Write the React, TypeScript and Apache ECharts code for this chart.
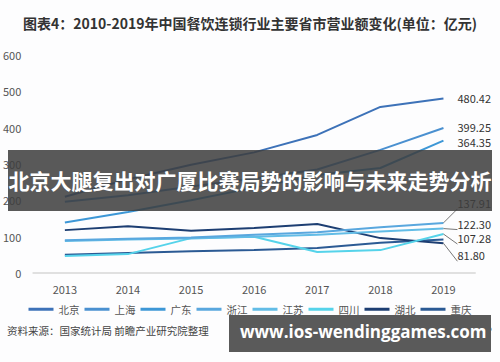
import React, { useEffect, useRef } from "react";
import * as echarts from "echarts";

const years = ["2013", "2014", "2015", "2016", "2017", "2018", "2019"];
const seriesNames = ["北京", "上海", "广东", "浙江", "江苏", "四川", "湖北", "重庆"];
const beijing = [210, 258, 298, 332, 380, 457, 480.42];
const shanghai = [196, 214, 238, 260, 285, 339, 399.25];
const guangdong = [139, 168, 200, 235, 270, 289, 364.35];
const zhejiang = [90, 94, 98, 105, 112, 126, 137.91];
const jiangsu = [88, 92, 95, 100, 105, 114, 122.3];
const sichuan = [47, 52, 96, 100, 58, 63, 107.28];
const hubei = [118, 129, 116, 124, 135, 96, 81.8];
const chongqing = [50, 55, 60, 63, 69, 83, 92];
const allValues = [beijing, shanghai, guangdong, zhejiang, jiangsu, sichuan, hubei, chongqing];
const yTicks = [0, 100, 200, 300, 400, 500, 600];

const colors = ["#3d72b8", "#4a90d0", "#3d97d6", "#59a7de", "#62bce6", "#55d3ea", "#1d3e72", "#2b5a94"];
const showEndLabel = [true, true, true, true, true, true, true, false];
// vertical nudges (px) for the crowded end labels, like the reference's leader-line layout
const labelNudge = [0, -1, 1, -20, -5, 4, 12, 0];

const TITLE = "图表4：2010-2019年中国餐饮连锁行业主要省市营业额变化(单位：亿元)";
const BANNER = "北京大腿复出对广厦比赛局势的影响与未来走势分析";
const SOURCE = "资料来源：国家统计局 前瞻产业研究院整理";
const SOURCE_RIGHT = "⊙ 前瞻经济学人APP";
const SITE = "www.ios-wendinggames.com";

const FONT = "'Noto Sans CJK SC', 'Noto Sans', sans-serif";

export default function App() {
  const ref = useRef<HTMLDivElement>(null);
  useEffect(() => {
    if (!ref.current) return;
    const chart = echarts.init(ref.current, undefined, { renderer: "svg" });
    const last = years.length - 1;
    const series = seriesNames.map((name, si) => ({
      name,
      type: "line",
      symbol: "circle",
      symbolSize: 0,
      showSymbol: true,
      z: 2 + (allValues.length - si),
      lineStyle: { width: 2, color: colors[si] },
      itemStyle: { color: colors[si] },
      label: { show: false },
      data: allValues[si].map((v, i) =>
        i === last && showEndLabel[si]
          ? {
              value: v,
              label: {
                show: true,
                position: "right",
                distance: 14,
                offset: [0, labelNudge[si]],
                formatter: (p: any) => Number(p.value).toFixed(2),
                color: "#333",
                fontSize: 11,
                lineHeight: 12,
                fontFamily: FONT,
              },
              labelLine: {
                show: Math.abs(labelNudge[si]) > 2,
                lineStyle: { color: "#777", width: 1 },
              },
            }
          : v
      ),
    }));
    chart.setOption({
      animation: false,
      backgroundColor: "#fdfdfe",
      textStyle: { fontFamily: FONT },
      grid: { left: 32, right: 25, top: 55, bottom: 89 },
      xAxis: {
        type: "category",
        data: years,
        boundaryGap: true,
        axisLine: { show: true, lineStyle: { color: "#e0e0e0", width: 2 } },
        axisTick: { show: false },
        axisLabel: { color: "#555", fontSize: 11, margin: 10 },
      },
      yAxis: {
        type: "value",
        min: yTicks[0],
        max: yTicks[yTicks.length - 1],
        interval: 100,
        axisLine: { show: false },
        axisTick: { show: false },
        splitLine: { show: false },
        axisLabel: { color: "#555", fontSize: 11, margin: 12 },
      },
      legend: {
        data: seriesNames,
        top: 299,
        left: "center",
        icon: "rect",
        itemWidth: 25,
        itemHeight: 3,
        itemGap: 5,
        textStyle: { color: "#555", fontSize: 10.5 },
      },
      series,
      graphic: [
        {
          type: "text",
          left: "center",
          top: 16,
          style: { text: TITLE, font: `bold 14px ${FONT}`, fill: "#333" },
          z: 100,
        },
        {
          type: "text",
          left: 7,
          top: 325,
          style: { text: SOURCE, font: `10.5px ${FONT}`, fill: "#444" },
          z: 100,
        },
        {
          type: "text",
          right: 8,
          top: 325,
          style: { text: SOURCE_RIGHT, font: `10.5px ${FONT}`, fill: "#555" },
          z: 100,
        },
        {
          type: "rect",
          shape: { x: 8, y: 150, width: 484, height: 61 },
          style: { fill: "rgba(62,62,62,0.86)" },
          z: 100,
        },
        {
          type: "text",
          left: "center",
          top: 169,
          style: { text: BANNER, font: `bold 21px ${FONT}`, fill: "#ffffff" },
          z: 101,
        },
        {
          type: "rect",
          shape: { x: 229, y: 315, width: 262, height: 37 },
          style: { fill: "#5a5a5a" },
          z: 100,
        },
        {
          type: "text",
          x: 240,
          y: 323,
          style: { text: SITE, font: `bold 17px 'Open Sans', sans-serif`, fill: "#ffffff" },
          z: 101,
        },
      ],
    });
    return () => chart.dispose();
  }, []);
  return <div ref={ref} style={{ width: 500, height: 362, position: "absolute", left: 0, top: 0 }} />;
}
